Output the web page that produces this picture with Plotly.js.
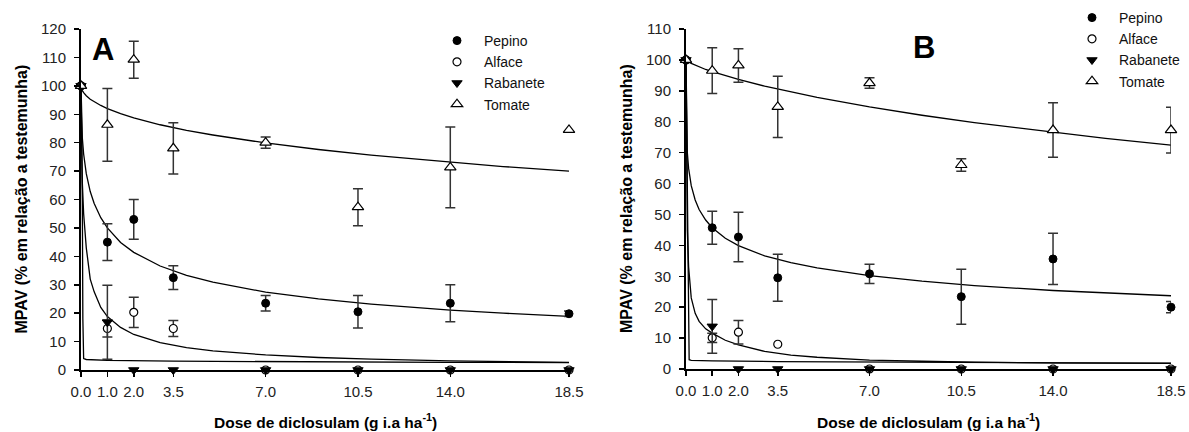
<!DOCTYPE html>
<html>
<head>
<meta charset="utf-8">
<script src="https://cdn.plot.ly/plotly-3.0.1.min.js"></script>
<style>html,body{margin:0;padding:0;background:#fff;}#chart{width:1189px;height:432px;}</style>
</head>
<body>
<div id="chart"></div>
<script>
// ---------- data ----------
var doses = [0, 1, 2, 3.5, 7, 10.5, 14, 18.5];
var doseTickText = ["0.0", "1.0", "2.0", "3.5", "7.0", "10.5", "14.0", "18.5"];
var seriesNames = ["Pepino", "Alface", "Rabanete", "Tomate"];

// Panel A observed means and error (NaN = no bar)
var pepinoA = [100, 45, 53, 32.5, 23.5, 20.5, 23.5, 19.8];
var pepinoErrA = [NaN, 6.5, 7, 4.2, 2.7, 5.7, 6.5, 1];
var alfaceA = [100, 14.6, 20.3, 14.6, 0, 0, 0, 0];
var alfaceErrA = [NaN, 3, 5.3, 2.8, NaN, NaN, NaN, NaN];
var rabaneteA = [100, 16.8, 0, 0, 0, 0, 0, 0];
var rabaneteErrA = [NaN, 13, NaN, NaN, NaN, NaN, NaN, NaN];
var tomateA = [100, 86.3, 109.2, 78, 80, 57.3, 71.3, 84.5];
var tomateErrA = [NaN, 12.8, 6.5, 9, 2, 6.5, 14.2, NaN];

// Panel B observed means and error
var pepinoB = [100, 45.7, 42.7, 29.5, 30.8, 23.4, 35.6, 20];
var pepinoErrB = [NaN, 5.3, 8, 7.6, 3.1, 8.9, 8.3, 1.8];
var alfaceB = [100, 10.1, 11.9, 8, 0, 0, 0, 0];
var alfaceErrB = [NaN, 1.5, 3.8, NaN, NaN, NaN, NaN, NaN];
var rabaneteB = [100, 13.8, 0, 0, 0, 0, 0, 0];
var rabaneteErrB = [NaN, 8.7, NaN, NaN, NaN, NaN, NaN, NaN];
var tomateB = [100, 96.5, 98.2, 84.8, 92.5, 66, 77.3, 77.3];
var tomateErrB = [NaN, 7.4, 5.4, 9.9, 1.7, 2, 8.8, 7.4];

// Fitted curves
var curveX = [0, 0.02, 0.05, 0.1, 0.2, 0.35, 0.5, 0.75, 1, 1.5, 2, 3, 4, 5, 7, 9, 11, 14, 16, 18.5];
var pepinoFitA = [100, 87.6, 81.7, 76.0, 69.1, 62.8, 58.6, 53.6, 50, 44.9, 41.4, 36.6, 33.3, 30.9, 27.4, 25, 23.2, 21.1, 20, 18.9];
var alfaceFitA = [100, 78, 66, 55, 43, 32, 27.5, 22, 18.8, 15, 12.5, 9.6, 7.9, 6.7, 5.3, 4.4, 3.8, 3.2, 2.9, 2.7];
var tomateFitA = [100, 99.0, 98.3, 97.6, 96.5, 95.3, 94.4, 93.1, 92.0, 90.2, 88.7, 86.3, 84.3, 82.7, 79.9, 77.6, 75.6, 73.1, 71.6, 70.0];
var rabaneteFitXA = [0, 0.05, 0.07, 0.08, 0.1, 0.2, 1, 3.5, 7, 14, 18.5];
var rabaneteFitA = [100, 60, 18, 6, 4, 3.7, 3.4, 3.1, 2.9, 2.7, 2.6];

var pepinoFitB = [100, 76.2, 70.1, 64.9, 59.3, 54.7, 51.6, 48.2, 45.7, 42.3, 39.9, 36.6, 34.4, 32.7, 30.2, 28.4, 27.0, 25.4, 24.6, 23.7];
var alfaceFitB = [100, 65, 45, 33, 23, 18, 15.4, 13, 11.6, 9.3, 7.8, 5.7, 4.5, 3.8, 2.9, 2.5, 2.2, 2.0, 1.9, 1.8];
var tomateFitB = [100, 99.8, 99.6, 99.3, 98.9, 98.3, 97.7, 96.9, 96.2, 94.9, 93.7, 91.5, 89.6, 87.9, 84.8, 82.1, 79.7, 76.5, 74.6, 72.4];
var rabaneteFitXB = [0, 0.05, 0.08, 0.1, 0.12, 0.2, 1, 3.5, 7, 14, 18.5];
var rabaneteFitB = [100, 60, 15, 5, 3, 2.8, 2.6, 2.4, 2.2, 2.0, 1.9];

// ---------- styling helpers ----------
var FONT = "Liberation Sans, Arial, sans-serif";
var markerStyles = [
  {symbol: "circle", size: 8, color: "#000", line: {color: "#000", width: 1}},
  {symbol: "circle", size: 8, color: "#fff", line: {color: "#000", width: 1.2}},
  {symbol: "triangle-down", size: 9, color: "#000", line: {color: "#000", width: 1}},
  {symbol: "triangle-up", size: 10, color: "#fff", line: {color: "#000", width: 1.2}}
];

function curve(x, y, xa, ya) {
  return {x: x, y: y, xaxis: xa, yaxis: ya, mode: "lines", type: "scatter",
    line: {color: "#000", width: 1.3}, showlegend: false, hoverinfo: "skip", cliponaxis: false};
}
function points(i, y, err, xa, ya, legendId) {
  return {x: doses, y: y, xaxis: xa, yaxis: ya, mode: "markers", type: "scatter",
    name: seriesNames[i], legend: legendId, marker: markerStyles[i], cliponaxis: false,
    error_y: {type: "data", array: err, visible: true, color: "#333", thickness: 1.5, width: 5}};
}

var traces = [
  curve(curveX, pepinoFitA, "x", "y"),
  curve(curveX, alfaceFitA, "x", "y"),
  curve(rabaneteFitXA, rabaneteFitA, "x", "y"),
  curve(curveX, tomateFitA, "x", "y"),
  curve(curveX, pepinoFitB, "x2", "y2"),
  curve(curveX, alfaceFitB, "x2", "y2"),
  curve(rabaneteFitXB, rabaneteFitB, "x2", "y2"),
  curve(curveX, tomateFitB, "x2", "y2"),
  points(0, pepinoA, pepinoErrA, "x", "y", "legend"),
  points(1, alfaceA, alfaceErrA, "x", "y", "legend"),
  points(2, rabaneteA, rabaneteErrA, "x", "y", "legend"),
  points(3, tomateA, tomateErrA, "x", "y", "legend"),
  points(0, pepinoB, pepinoErrB, "x2", "y2", "legend2"),
  points(1, alfaceB, alfaceErrB, "x2", "y2", "legend2"),
  points(2, rabaneteB, rabaneteErrB, "x2", "y2", "legend2"),
  points(3, tomateB, tomateErrB, "x2", "y2", "legend2")
];

function xAxis(domain, anchor) {
  return {domain: domain, anchor: anchor, range: [0, 18.5], tickvals: doses, ticktext: doseTickText,
    showline: true, linecolor: "#000", linewidth: 2, ticks: "outside", ticklen: 5, tickwidth: 1.5,
    tickcolor: "#000", showgrid: false, zeroline: false, ticklabelstandoff: 2,
    tickfont: {family: FONT, size: 15, color: "#222"}};
}
function yAxis(domain, anchor, max) {
  return {domain: domain, anchor: anchor, range: [0, max], dtick: 10, tick0: 0,
    showline: true, linecolor: "#000", linewidth: 2, ticks: "outside", ticklen: 5, tickwidth: 1.5,
    tickcolor: "#000", showgrid: false, zeroline: false, ticklabelstandoff: 5,
    tickfont: {family: FONT, size: 15, color: "#222"}};
}

var W = 1189, H = 432;
var yTitle = "<b>MPAV (% em relação a testemunha)</b>";
var xTitle = "<b>Dose de diclosulam (g i.a ha<sup>-1</sup>)</b>";
var legendFont = {family: FONT, size: 14, color: "#111"};

var layout = {
  width: W, height: H, margin: {l: 0, r: 0, t: 0, b: 0},
  paper_bgcolor: "#fff", plot_bgcolor: "#fff",
  font: {family: FONT, color: "#000"},
  xaxis: xAxis([81 / W, 569 / W], "y"),
  yaxis: yAxis([(H - 370) / H, (H - 29) / H], "x", 120),
  xaxis2: xAxis([686 / W, 1171 / W], "y2"),
  yaxis2: yAxis([(H - 369) / H, (H - 29) / H], "x2", 110),
  legend: {x: 430 / W, y: (H - 25) / H, xanchor: "left", yanchor: "top", bgcolor: "rgba(0,0,0,0)",
    font: legendFont, tracegroupgap: 0, itemwidth: 44},
  legend2: {x: 1065 / W, y: (H - 2) / H, xanchor: "left", yanchor: "top", bgcolor: "rgba(0,0,0,0)",
    font: legendFont, tracegroupgap: 0, itemwidth: 44},
  annotations: [
    {text: "<b>A</b>", x: 102.5 / W, y: (H - 50) / H, xref: "paper", yref: "paper", showarrow: false,
      xanchor: "center", yanchor: "middle", font: {family: FONT, size: 31, color: "#000"}},
    {text: "<b>B</b>", x: 924 / W, y: (H - 47.5) / H, xref: "paper", yref: "paper", showarrow: false,
      xanchor: "center", yanchor: "middle", font: {family: FONT, size: 31, color: "#000"}},
    {text: yTitle, x: 21 / W, y: (H - 199.5) / H, xref: "paper", yref: "paper", showarrow: false,
      textangle: -90, xanchor: "center", yanchor: "middle", font: {family: FONT, size: 16, color: "#000"}},
    {text: yTitle, x: 626 / W, y: (H - 199) / H, xref: "paper", yref: "paper", showarrow: false,
      textangle: -90, xanchor: "center", yanchor: "middle", font: {family: FONT, size: 16, color: "#000"}},
    {text: xTitle, x: 325 / W, y: 0, xref: "paper", yref: "paper", showarrow: false, borderpad: 0,
      xanchor: "center", yanchor: "bottom", font: {family: FONT, size: 15.5, color: "#000"}},
    {text: xTitle, x: 928 / W, y: 0, xref: "paper", yref: "paper", showarrow: false, borderpad: 0,
      xanchor: "center", yanchor: "bottom", font: {family: FONT, size: 15.5, color: "#000"}}
  ]
};

Plotly.newPlot("chart", traces, layout, {staticPlot: true, displayModeBar: false});
</script>
</body>
</html>
